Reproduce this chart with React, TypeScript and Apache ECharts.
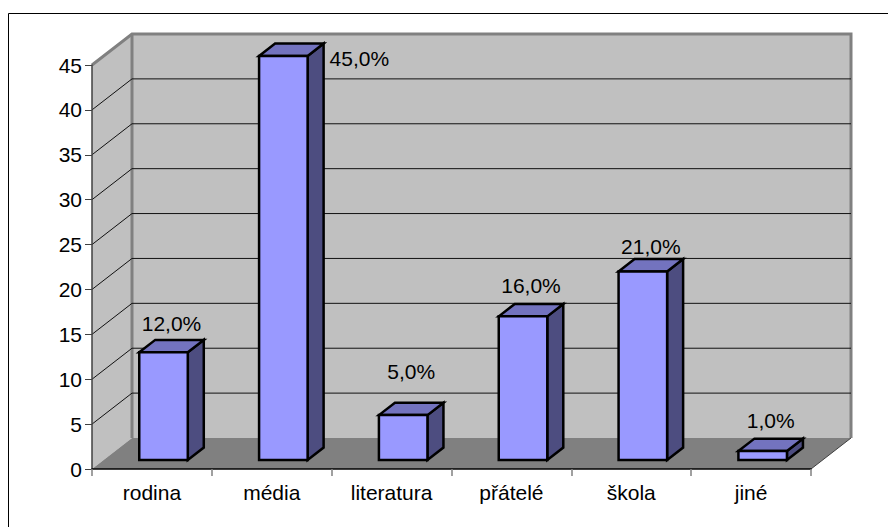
import React, { useEffect, useRef } from "react";
import * as echarts from "echarts";

const categories = ["rodina", "média", "literatura", "přátelé", "škola", "jiné"];
const shares = [12, 45, 5, 16, 21, 1];
const yTicks = [0, 5, 10, 15, 20, 25, 30, 35, 40, 45];

// Nudges of each percentage label away from the centre of its column's top, in px.
const labelNudge = [
  [0, -16],
  [68, 15],
  [0, -31],
  [0, -18],
  [0, -13],
  [0, -18],
];

const FONT = '"Liberation Sans", Arial, sans-serif';
const DEPTH_X = 40;
const DEPTH_Y = -31;
const BAR_INSET = 0.29; // where the column's front face sits inside the box depth
const BAR_DEPTH = 0.4; // column depth as a share of the box depth
const BAR_WIDTH = 0.405; // column width as a share of a category band

const pct = (v: number) => v.toFixed(1).replace(".", ",") + "%";

function renderWalls(params: any) {
  const { x, y, width, height } = params.coordSys;
  const bottom = y + height;
  const right = x + width;
  const bx = x + DEPTH_X;
  const tY = y + DEPTH_Y;
  const bY = bottom + DEPTH_Y;
  const edge = { stroke: "#808080", lineWidth: 3 };
  return {
    type: "group",
    children: [
      { type: "polygon", shape: { points: [[bx, tY], [right + DEPTH_X, tY], [right + DEPTH_X, bY], [bx, bY]] }, style: { fill: "#C0C0C0" } },
      { type: "polygon", shape: { points: [[x, y], [bx, tY], [bx, bY], [x, bottom]] }, style: { fill: "#C0C0C0" } },
      { type: "polygon", shape: { points: [[x, bottom], [right, bottom], [right + DEPTH_X, bY], [bx, bY]] }, style: { fill: "#808080" } },
      { type: "polyline", shape: { points: [[x, y], [bx, tY], [right + DEPTH_X, tY], [right + DEPTH_X, bY]] }, style: { ...edge, fill: "none" } },
      { type: "line", shape: { x1: bx, y1: tY, x2: bx, y2: bY }, style: edge },
      { type: "line", shape: { x1: right, y1: bottom, x2: right + DEPTH_X, y2: bY }, style: { stroke: "#404040", lineWidth: 1 } },
    ],
  };
}

function renderGridline(params: any, api: any) {
  const { x, width } = params.coordSys;
  const v = api.value(1);
  const y0 = api.coord([0, v])[1];
  const bx = x + DEPTH_X;
  const y1 = y0 + DEPTH_Y;
  const line = { stroke: "#111", lineWidth: 1 };
  return {
    type: "group",
    children: [
      { type: "line", shape: { x1: x, y1: y0, x2: bx, y2: y1 }, style: line },
      { type: "line", shape: { x1: bx, y1, x2: x + width + DEPTH_X, y2: y1 }, style: line },
    ],
  };
}

function renderColumn(params: any, api: any) {
  const i = api.value(0);
  const v = api.value(1);
  const [cx, top] = api.coord([i, v]);
  const base = api.coord([i, 0])[1];
  const w = api.size([1, 0])[0] * BAR_WIDTH;
  const ox = DEPTH_X * BAR_INSET;
  const oy = DEPTH_Y * BAR_INSET;
  const dx = DEPTH_X * BAR_DEPTH;
  const dy = DEPTH_Y * BAR_DEPTH;
  const l = cx - w / 2 + ox;
  const r = l + w;
  const t = top + oy;
  const b = base + oy;
  const outline = { stroke: "#000", lineWidth: 2.5, lineJoin: "miter" };
  const nudge = labelNudge[i];
  return {
    type: "group",
    children: [
      { type: "polygon", shape: { points: [[r, t], [r + dx, t + dy], [r + dx, b + dy], [r, b]] }, style: { fill: "#4D4D80", ...outline } },
      { type: "polygon", shape: { points: [[l, t], [l + dx, t + dy], [r + dx, t + dy], [r, t]] }, style: { fill: "#7373BF", ...outline } },
      { type: "polygon", shape: { points: [[l, t], [r, t], [r, b], [l, b]] }, style: { fill: "#9999FF", ...outline } },
      {
        type: "text",
        style: {
          x: (l + r + dx) / 2 + nudge[0],
          y: t + dy + nudge[1],
          text: pct(v),
          fill: "#000",
          fontSize: 21,
          fontFamily: FONT,
          align: "center",
          verticalAlign: "middle",
        },
      },
    ],
  };
}

export default function App() {
  const ref = useRef<HTMLDivElement>(null);

  useEffect(() => {
    const chart = echarts.init(ref.current!, null, { renderer: "svg" });
    chart.setOption({
      animation: false,
      backgroundColor: "#fff",
      grid: { left: 92, right: 77, top: 65, bottom: 58 },
      xAxis: {
        type: "category",
        data: categories,
        z: 5,
        axisLine: { show: true, lineStyle: { color: "#000", width: 1.5 } },
        axisTick: { show: true, length: 7, lineStyle: { color: "#808080", width: 1.5 } },
        axisLabel: { color: "#000", fontSize: 21, fontFamily: FONT, margin: 13 },
      },
      yAxis: {
        type: "value",
        min: 0,
        max: 45,
        interval: 5,
        z: 5,
        splitLine: { show: false },
        axisLine: { show: true, lineStyle: { color: "#404040", width: 1.5 } },
        axisTick: { show: true, length: 7, lineStyle: { color: "#404040", width: 1 } },
        axisLabel: { color: "#000", fontSize: 21, fontFamily: FONT, margin: 10 },
      },
      graphic: [
        {
          type: "rect",
          z: 10,
          silent: true,
          shape: { x: 8.5, y: 13.5, width: 900, height: 600 },
          style: { fill: "none", stroke: "#000", lineWidth: 1 },
        },
      ],
      series: [
        { type: "custom", silent: true, z: 1, clip: false, renderItem: renderWalls, data: [[0, 0]] },
        {
          type: "custom",
          silent: true,
          z: 2,
          clip: false,
          renderItem: renderGridline,
          data: yTicks.filter((t) => t > 0 && t < 45).map((t) => [0, t]),
        },
        {
          type: "custom",
          silent: true,
          z: 3,
          clip: false,
          renderItem: renderColumn,
          data: shares.map((v, i) => [i, v]),
          encode: { x: 0, y: 1 },
        },
      ],
    });
    return () => chart.dispose();
  }, []);

  return <div ref={ref} style={{ position: "fixed", left: 0, top: 0, width: 888, height: 527 }} />;
}
